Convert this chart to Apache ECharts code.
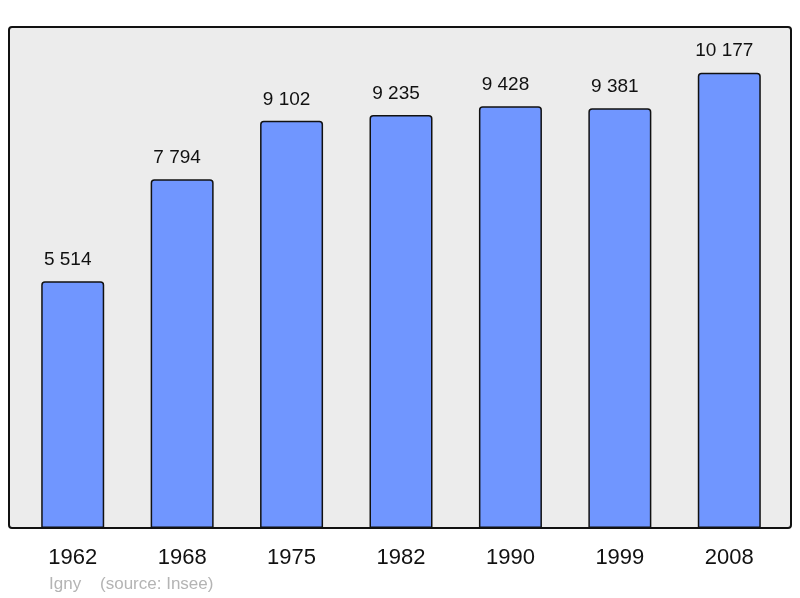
<!DOCTYPE html>
<html>
<head>
<meta charset="utf-8">
<script src="https://cdn.jsdelivr.net/npm/echarts@6/dist/echarts.min.js"></script>
<style>
  html, body { margin: 0; padding: 0; background: #fff; }
  #chart { width: 800px; height: 598px; }
</style>
</head>
<body>
<div id="chart"></div>
<script>
// population data
const years = ['1962', '1968', '1975', '1982', '1990', '1999', '2008']
const population = [5514, 7794, 9102, 9235, 9428, 9381, 10177]
const footerText = 'Igny    (source: Insee)'

const fmt = v => String(v).replace(/\B(?=(\d{3})+(?!\d))/g, ' ')

const myChart = echarts.init(document.getElementById('chart'))
const option = {
    animation: false,
    grid: { left: 18, right: 16, top: 27, bottom: 70 },
    xAxis: {
        type: 'category',
        data: years,
        axisLine: { show: false },
        axisTick: { show: false },
        axisLabel: {
            color: '#111',
            fontSize: 22,
            fontFamily: 'Liberation Sans, Arial, sans-serif',
            margin: 19
        }
    },
    yAxis: {
        type: 'value',
        min: 0,
        max: 11200,
        show: false,
        splitLine: { show: false }
    },
    series: [{
        type: 'bar',
        data: population,
        barWidth: 63,
        itemStyle: {
            color: '#7096ff',
            borderColor: '#111',
            borderWidth: 1.5,
            borderRadius: [3, 3, 0, 0]
        },
        label: {
            show: true,
            position: 'top',
            distance: 12,
            offset: [-5, 0],
            color: '#111',
            fontSize: 19,
            fontFamily: 'Liberation Sans, Arial, sans-serif',
            formatter: p => fmt(p.value)
        }
    }],
    graphic: [
        {
            type: 'rect',
            z: -10,
            shape: { x: 9, y: 27, width: 782, height: 501, r: 3 },
            style: { fill: '#ececec', stroke: 'none' }
        },
        {
            type: 'rect',
            z: 100,
            silent: true,
            shape: { x: 9, y: 27, width: 782, height: 501, r: 3 },
            style: { fill: 'none', stroke: '#111', lineWidth: 2 }
        },
        {
            type: 'text',
            x: 49,
            y: 584,
            style: {
                text: footerText,
                fill: '#b4b4b4',
                fontSize: 17,
                verticalAlign: 'middle',
                fontFamily: 'Liberation Sans, Arial, sans-serif'
            }
        }
    ]
}
myChart.setOption(option)
</script>
</body>
</html>
